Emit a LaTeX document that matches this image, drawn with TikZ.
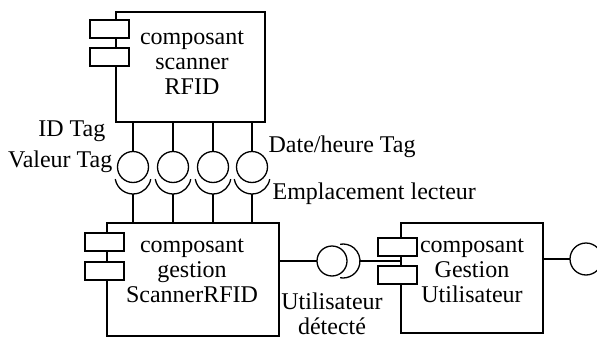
\documentclass[tikz,border=0pt]{standalone}
\usepackage{fontspec}
\setmainfont{Liberation Serif}
\begin{document}
\begin{tikzpicture}[x=1pt,y=-1pt,line width=1.3pt,
  compbox/.style={draw,rectangle,inner sep=0pt,outer sep=0pt,anchor=north west},
  port/.style={draw,fill=white,rectangle,inner sep=0pt,outer sep=0pt,anchor=north west,minimum width=39pt,minimum height=18pt},
  ball/.style={draw,circle,inner sep=0pt,outer sep=0pt,minimum size=31pt},
  txt/.style={inner sep=0pt,font=\fontsize{24}{25}\selectfont},
  ctxt/.style={txt,align=center}]
\useasboundingbox (0,0) rectangle (597,340);
% boxes
\node[compbox,minimum width=149pt,minimum height=110pt] (top) at (116,12) {};
\node[compbox,minimum width=172pt,minimum height=113pt] (gest) at (107,223) {};
\node[compbox,minimum width=142pt,minimum height=110pt] (user) at (401,223) {};
% ports
\node[port] (tp1) at (90,20) {};
\node[port] (tp2) at (90,48) {};
\node[port] (gp1) at (85,233) {};
\node[port] (gp2) at (85,262) {};
\node[port] (up1) at (378,238) {};
\node[port] (up2) at (378,266) {};
% texts
\node[ctxt] (ttop) at (192,63) {composant\\scanner\\RFID};
\node[ctxt] (tgest) at (192,271) {composant\\gestion\\ScannerRFID};
\node[ctxt] (tuser) at (472,271) {composant\\Gestion\\Utilisateur};
% vertical interfaces
\foreach \i/\x in {1/133,2/173,3/213,4/252}{
  \coordinate (a\i) at (\x,122);
  \node[ball] (b\i) at (\x,167) {};
  \coordinate (s\i) at (\x,176);
  \coordinate (sb\i) at (\x,194);
  \coordinate (g\i) at (\x,223);
  \draw (a\i) -- (b\i.north);
  \draw ([shift={(190:18pt)}]s\i) arc[start angle=190,end angle=350,radius=18pt];
  \draw (sb\i) -- (g\i);
}
% horizontal interface
\coordinate (gr) at (279,261);
\node[ball,minimum size=30pt] (hb) at (332,261) {};
\coordinate (hs) at (343,261);
\coordinate (hse) at (360,261);
\coordinate (ul) at (401,261);
\draw (gr) -- (hb.west);
\draw ([shift={(-100:17pt)}]hs) arc[start angle=-100,end angle=100,radius=17pt];
\draw (hse) -- (ul);
% provided on the right
\coordinate (ur) at (543,259);
\node[ball,minimum size=32pt] (rb) at (586,259) {};
\draw (ur) -- (rb.west);
% labels
\node[txt,anchor=base east] (l1) at (106,136) {ID Tag};
\node[txt,anchor=base east] (l2) at (113,167) {Valeur Tag};
\node[txt,anchor=base west] (l3) at (268,152) {Date/heure Tag};
\node[txt,anchor=base west] (l4) at (272,199) {Emplacement lecteur};
\node[ctxt] (l5) at (332,314) {Utilisateur\\détecté};
\end{tikzpicture}
\end{document}
